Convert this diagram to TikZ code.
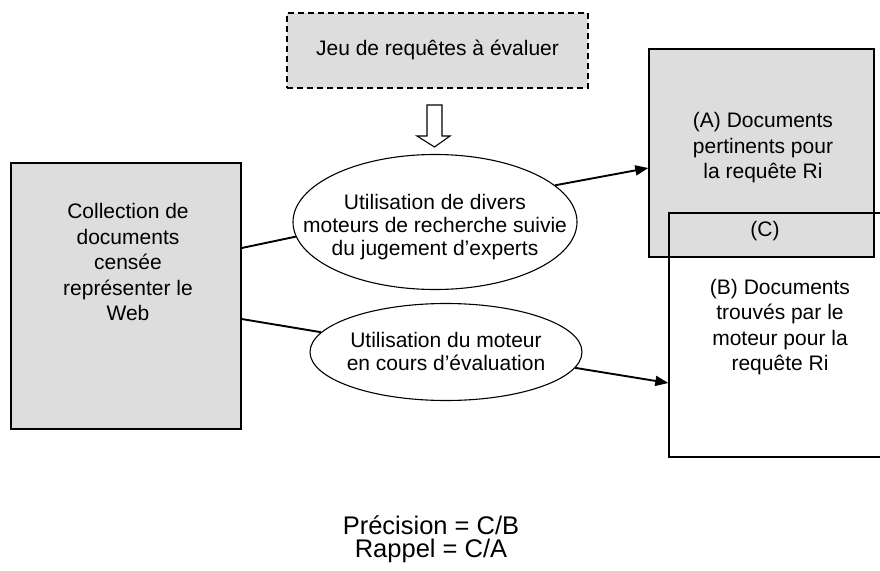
\documentclass[tikz,border=0pt]{standalone}
\usepackage{fontspec}
\setmainfont{Liberation Sans}
\usetikzlibrary{shapes.geometric,arrows.meta,calc}
\definecolor{boxgray}{RGB}{221,221,221}
\begin{document}
\begin{tikzpicture}[x=1pt,y=-1pt,
  every node/.style={font=\fontsize{21}{25.5}\selectfont, align=center, inner sep=0pt},
  graybox/.style={draw, line width=1.4pt, fill=boxgray},
  openbox/.style={draw, line width=1.4pt},
  bubble/.style={draw, ellipse, line width=1.1pt, fill=white},
  tight/.style={font=\fontsize{21}{23}\selectfont},
  formula/.style={font=\fontsize{25.5}{25.5}\selectfont, anchor=base},
  link/.style={line width=1.9pt},
  arrowlink/.style={line width=1.9pt, -{Triangle[length=13pt,width=10pt]}}]
\useasboundingbox (0,0) rectangle (880,570);

% query set (dashed) and the hollow arrow below it
\node[graybox, line width=1.2pt, dash pattern=on 6pt off 4pt,
      minimum width=301pt, minimum height=75pt] (Q) at (437.5,50.5) {};
\node (Qt) at (437.5,50) {Jeu de requêtes à évaluer};
\draw[line width=1.1pt, fill=white] (427,105) -- (442,105) -- (442,136) -- (450,136)
  -- (434.5,147) -- (417,136) -- (427,136) -- cycle;

% collection of documents
\node[graybox, minimum width=230pt, minimum height=266pt] (L) at (126,296) {};
\node (Lt) at (128,262) {Collection de\\documents\\censée\\représenter le\\Web};

% relevant documents (A) and retrieved documents (B)
\node[graybox, minimum width=225pt, minimum height=208pt] (A) at (761.5,153) {};
\node (At) at (763,148) {(A) Documents\\pertinents pour\\la requête Ri};
\node[openbox, minimum width=220pt, minimum height=244pt] (B) at (779,335) {};
\node (Bt) at (780,327) {(B) Documents\\trouvés par le\\moteur pour la\\requête Ri};
\node (C) at (765,231) {(C)};

% the two evaluation steps
\node[bubble, minimum width=284pt, minimum height=135pt] (E1) at (435,222) {};
\node[tight] (E1t) at (435,227) {Utilisation de divers\\moteurs de recherche suivie\\du jugement d’experts};
\node[bubble, minimum width=272pt, minimum height=97pt] (E2) at (446,352) {};
\node[tight] (E2t) at (446,351) {Utilisation du moteur\\en cours d’évaluation};

% connectors
\draw[link] ($(L.east)+(0,-48)$) -- (E1.186);
\draw[link] ($(L.east)+(0,23)$) -- (E2.171);
\draw[arrowlink] (E1.17) -- ($(A.west)+(0,15)$);
\draw[arrowlink] (E2.353) -- ($(B.west)+(0,48)$);

% measures
\node[formula] (P) at (431,534) {Précision = C/B};
\node[formula] (R) at (431,557) {Rappel = C/A};
\end{tikzpicture}
\end{document}
